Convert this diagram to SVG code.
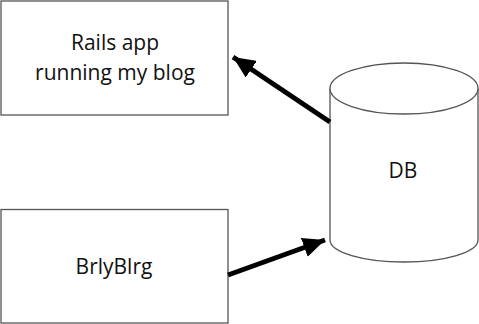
<svg xmlns="http://www.w3.org/2000/svg" width="479" height="324" viewBox="0 0 479 324">
  <style>
    .box { fill: #ffffff; stroke: #555555; stroke-width: 1.3; }
    .label { font-family: "Open Sans", "Noto Sans", sans-serif; font-size: 21px; fill: #111111; text-anchor: middle; }
    .conn { stroke: #000000; stroke-width: 5; fill: none; marker-end: url(#head); }
  </style>
  <defs>
    <marker id="head" markerUnits="userSpaceOnUse" markerWidth="24" markerHeight="20" refX="22" refY="10" orient="auto">
      <path d="M0,0 L22,10 L0,20 Z" fill="#000000"/>
    </marker>
  </defs>
  <rect width="479" height="324" fill="#ffffff"/>

  <g id="rails-app">
    <rect class="box" x="1" y="1" width="227" height="114"/>
    <text class="label" x="115" y="50">Rails app</text>
    <text class="label" x="115" y="80">running my blog</text>
  </g>

  <g id="brlyblrg">
    <rect class="box" x="1" y="209.5" width="227" height="113.5"/>
    <text class="label" x="114" y="274">BrlyBlrg</text>
  </g>

  <g id="db">
    <path class="box" d="M330,88.5 L330,240 A74,22 0 0 0 478,240 L478,88.5"/>
    <ellipse class="box" cx="404" cy="88.5" rx="74" ry="25.5"/>
    <text class="label" x="403" y="178">DB</text>
  </g>

  <g id="connectors">
    <line class="conn" x1="330" y1="122" x2="233" y2="57"/>
    <line class="conn" x1="228" y1="275" x2="325" y2="240"/>
  </g>
</svg>
